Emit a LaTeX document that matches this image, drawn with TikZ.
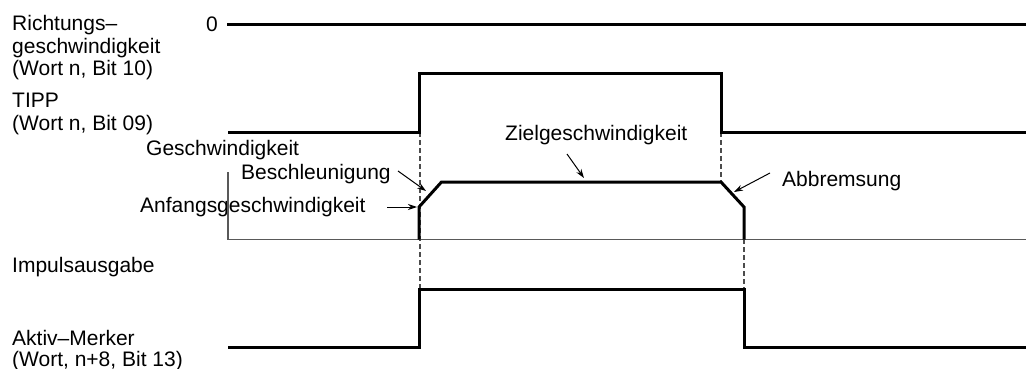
\documentclass[tikz,border=0pt]{standalone}
\usepackage{fontspec}
\setmainfont{Liberation Sans}
\usetikzlibrary{arrows.meta}
\begin{document}
\begin{tikzpicture}[x=1pt,y=-1pt,
  lbl/.style={anchor=base west,inner sep=0pt,font=\fontsize{21}{23}\selectfont},
  sig/.style={line width=3pt,line join=miter},
  axis/.style={line width=1.8pt,draw=black!65},
  guide/.style={line width=1.2pt,draw=black!70,dash pattern=on 5pt off 3pt},
  pointer/.style={line width=1pt,-{Stealth[length=9pt,width=6pt]}}]
\useasboundingbox (0,0) rectangle (1026,369);
% labels
\node[lbl] (rg1) at (12,31) {Richtungs--};
\node[lbl] (rg2) at (12,53.5) {geschwindigkeit};
\node[lbl] (rg3) at (12,76) {(Wort n, Bit 10)};
\node[lbl] (tipp1) at (12,107) {TIPP};
\node[lbl] (tipp2) at (12,130) {(Wort n, Bit 09)};
\node[lbl] (gesch) at (146,155) {Geschwindigkeit};
\node[lbl] (besch) at (241,179) {Beschleunigung};
\node[lbl] (anf) at (140,212) {Anfangsgeschwindigkeit};
\node[lbl] (ziel) at (505,140.5) {Zielgeschwindigkeit};
\node[lbl] (abb) at (782,186) {Abbremsung};
\node[lbl] (imp) at (12,272.5) {Impulsausgabe};
\node[lbl] (akt1) at (12,345) {Aktiv--Merker};
\node[lbl] (akt2) at (12,366) {(Wort, n+8, Bit 13)};
\node[lbl,anchor=base east] (zero) at (218,32) {0};
% guides
\draw[guide] (420,132) -- (420,290);
\draw[guide] (721,132) -- (721,182);
\draw[guide] (744,239) -- (744,290);
% direction signal
\draw[sig] (227,24.5) -- (1026,24.5);
% TIPP
\draw[sig] (228,132) -- (419,132) -- (419,74) -- (721,74) -- (721,132) -- (1026,132);
% speed axes
\draw[axis] (228,172) -- (228,239.5) -- (1026,239.5);
% speed profile
\coordinate (s0) at (419,239.5);
\coordinate (s1) at (419,207);
\coordinate (s2) at (441.5,182);
\coordinate (s3) at (721,182);
\coordinate (s4) at (744,207);
\coordinate (s5) at (744,239.5);
\draw[sig] (s0) -- (s1) -- (s2) -- (s3) -- (s4) -- (s5);
% Aktiv
\draw[sig] (228,347.5) -- (419,347.5) -- (419,289.5) -- (744,289.5) -- (744,347.5) -- (1026,347.5);
% pointers
\coordinate (pb) at (426,191);
\coordinate (pa) at (417,207);
\coordinate (pz) at (584,178);
\coordinate (pd) at (734,192);
\draw[pointer] (398,171) -- (pb);
\draw[pointer] (387,207) -- (pa);
\draw[pointer] (567,154) -- (pz);
\draw[pointer] (770,173) -- (pd);
\end{tikzpicture}
\end{document}
